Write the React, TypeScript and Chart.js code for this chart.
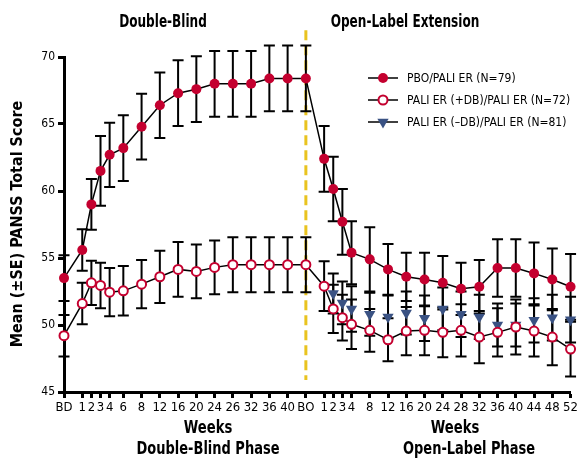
import React, { useEffect, useRef } from 'react';
import { Chart, registerables } from 'chart.js';

Chart.register(...registerables);

const NARROW = '"Liberation Sans Narrow", "DejaVu Sans Condensed", "Roboto", sans-serif';

// x axis: tick labels and their positions on the (non-uniform) time axis
const xLabels = ['BD', '1', '2', '3', '4', '6', '8', '12', '16', '20', '24', '26', '32', '36', '40', 'BO',
  '1', '2', '3', '4', '8', '12', '16', '20', '24', '28', '32', '36', '40', '44', '48', '52'];
const xPos = [0, 2, 3, 4, 5, 6.5, 8.5, 10.5, 12.5, 14.5, 16.5, 18.5, 20.5, 22.5, 24.5, 26.5,
  28.5, 29.5, 30.5, 31.5, 33.5, 35.5, 37.5, 39.5, 41.5, 43.5, 45.5, 47.5, 49.5, 51.5, 53.5, 55.5];
const yMin = 45;
const yMax = 70;
const yStep = 5;
const boIndex = 15;
const dividerTop = 72;
const dividerBottom = 45.9;

const seriesLabels = ['PBO/PALI ER (N=79)', 'PALI ER (+DB)/PALI ER (N=72)', 'PALI ER (\u2013DB)/PALI ER (N=81)'];

// PBO/PALI ER
const pboMean = [53.5, 55.6, 59.0, 61.5, 62.7, 63.2, 64.8, 66.4, 67.3, 67.6, 68.0, 68.0, 68.0, 68.4, 68.4, 68.4,
  62.4, 60.15, 57.7, 55.4, 54.9, 54.15, 53.6, 53.4, 53.15, 52.7, 52.85, 54.25, 54.25, 53.85, 53.4, 52.85];
const pboSE = [1.7, 1.55, 1.9, 2.6, 2.4, 2.45, 2.45, 2.45, 2.45, 2.45, 2.45, 2.45, 2.45, 2.45, 2.45, 2.45,
  2.45, 2.4, 2.45, 2.35, 2.4, 1.9, 1.8, 2.0, 2.0, 1.95, 2.0, 2.15, 2.15, 2.3, 2.3, 2.45];

// PALI ER (+DB)/PALI ER
const plusMean = [49.2, 51.6, 53.15, 52.95, 52.45, 52.55, 53.05, 53.6, 54.15, 54.0, 54.3, 54.5, 54.5, 54.5, 54.5, 54.5,
  52.9, 51.2, 50.55, 50.05, 49.6, 48.9, 49.55, 49.6, 49.45, 49.6, 49.1, 49.45, 49.85, 49.55, 49.1, 48.2];
const plusSE = [1.55, 1.55, 1.65, 1.7, 1.8, 1.85, 1.8, 1.95, 2.05, 2.0, 2.0, 2.05, 2.05, 2.05, 2.05, 2.05,
  1.85, 1.8, 1.7, 1.85, 1.6, 1.6, 1.8, 1.85, 1.85, 1.95, 1.95, 1.8, 2.05, 1.9, 2.1, 2.05];

// PALI ER (-DB)/PALI ER
const minusMean = [null, null, null, null, null, null, null, null, null, null, null, null, null, null, null, null,
  null, 52.35, 51.65, 51.2, 50.8, 50.6, 50.9, 50.5, 51.2, 50.8, 50.6, 50.0, 50.0, 50.35, 50.55, 50.4];
const minusSE = [null, null, null, null, null, null, null, null, null, null, null, null, null, null, null, null,
  null, 1.5, 1.6, 1.7, 1.6, 1.6, 1.6, 1.7, 1.6, 1.7, 1.65, 1.6, 1.6, 1.65, 1.7, 1.7];

const RED = '#C4002F';
const NAVY = '#3A5283';
const GOLD = '#E9C31F';

const toPoints = (vals: (number | null)[]) => vals.map((v, i) => ({ x: xPos[i], y: v }));
const errs = [pboSE, plusSE, minusSE];

const drawMarker = (ctx: CanvasRenderingContext2D, kind: number, x: number, y: number) => {
  ctx.save();
  if (kind === 0) {
    ctx.fillStyle = RED;
    ctx.beginPath(); ctx.arc(x, y, 5, 0, Math.PI * 2); ctx.fill();
  } else if (kind === 1) {
    ctx.fillStyle = '#fff'; ctx.strokeStyle = RED; ctx.lineWidth = 2;
    ctx.beginPath(); ctx.arc(x, y, 4.5, 0, Math.PI * 2); ctx.fill(); ctx.stroke();
  } else {
    const r = 6.5;
    ctx.fillStyle = NAVY;
    ctx.beginPath();
    ctx.moveTo(x, y + r);
    ctx.lineTo(x - r * Math.sin(Math.PI / 3), y - r / 2);
    ctx.lineTo(x + r * Math.sin(Math.PI / 3), y - r / 2);
    ctx.closePath(); ctx.fill();
  }
  ctx.restore();
};

const errorBarsPlugin = {
  id: 'errorBars',
  beforeDatasetsDraw(chart: any) {
    const { ctx, scales } = chart;
    const x = scales.x, y = scales.y;
    ctx.save();
    // phase divider
    const bx = x.getPixelForValue(xPos[boIndex]);
    ctx.strokeStyle = GOLD; ctx.lineWidth = 3; ctx.setLineDash([10, 5]);
    ctx.beginPath();
    ctx.moveTo(bx, y.getPixelForValue(dividerTop));
    ctx.lineTo(bx, y.getPixelForValue(dividerBottom));
    ctx.stroke();
    ctx.setLineDash([]);
    ctx.strokeStyle = '#000'; ctx.lineWidth = 2;
    chart.data.datasets.forEach((ds: any, di: number) => {
      const se = errs[di];
      ds.data.forEach((p: any, i: number) => {
        if (p.y == null || se[i] == null) return;
        const px = x.getPixelForValue(p.x);
        const t = y.getPixelForValue(p.y + se[i]);
        const b = y.getPixelForValue(p.y - se[i]);
        ctx.beginPath();
        ctx.moveTo(px, t); ctx.lineTo(px, b);
        ctx.moveTo(px - 5.5, t); ctx.lineTo(px + 5.5, t);
        ctx.moveTo(px - 5.5, b); ctx.lineTo(px + 5.5, b);
        ctx.stroke();
      });
    });
    ctx.restore();
  },
};

const condensedText = (ctx: CanvasRenderingContext2D, text: string, x: number, y: number, sx: number) => {
  ctx.save();
  ctx.translate(x, y);
  ctx.scale(sx, 1);
  ctx.fillText(text, 0, 0);
  ctx.restore();
};

const textPlugin = {
  id: 'texts',
  afterDraw(chart: any) {
    const { ctx } = chart;
    ctx.save();
    ctx.fillStyle = '#000';
    ctx.textAlign = 'center';
    ctx.textBaseline = 'middle';
    ctx.font = `bold 17px ${NARROW}`;
    condensedText(ctx, 'Double-Blind', 163, 23, 0.79);
    condensedText(ctx, 'Open-Label Extension', 405, 23, 0.79);
    condensedText(ctx, 'Weeks', 208, 429, 0.86);
    condensedText(ctx, 'Double-Blind Phase', 208, 450, 0.85);
    condensedText(ctx, 'Weeks', 455, 429, 0.86);
    condensedText(ctx, 'Open-Label Phase', 469, 450, 0.85);
    // y title
    ctx.save();
    ctx.translate(18, 224);
    ctx.rotate(-Math.PI / 2);
    ctx.font = `bold 16px ${NARROW}`;
    ctx.fillText('Mean (\u00B1SE) PANSS Total Score', 0, 0);
    ctx.restore();
    // legend
    ctx.textAlign = 'left';
    ctx.font = `12px ${NARROW}`;
    seriesLabels.forEach((lab, i) => {
      const ly = 78 + i * 22;
      ctx.strokeStyle = '#000'; ctx.lineWidth = 1.5;
      ctx.beginPath(); ctx.moveTo(368, ly); ctx.lineTo(398, ly); ctx.stroke();
      drawMarker(ctx, i, 383, ly);
      ctx.fillStyle = '#000';
      ctx.fillText(lab, 407, ly + 1);
    });
    ctx.restore();
  },
};

export default function App() {
  const ref = useRef<HTMLCanvasElement | null>(null);
  useEffect(() => {
    if (!ref.current) return;
    const chart = new Chart(ref.current, {
      type: 'line',
      data: {
        datasets: [
          {
            label: seriesLabels[0], data: toPoints(pboMean) as any,
            borderColor: '#000', borderWidth: 1.5, pointStyle: 'circle', pointRadius: 5,
            pointBackgroundColor: RED, pointBorderColor: RED, pointBorderWidth: 0, clip: false as any,
          },
          {
            label: seriesLabels[1], data: toPoints(plusMean) as any,
            borderColor: '#000', borderWidth: 1.5, pointStyle: 'circle', pointRadius: 4.5,
            pointBackgroundColor: '#fff', pointBorderColor: RED, pointBorderWidth: 2, clip: false as any,
          },
          {
            label: seriesLabels[2], data: toPoints(minusMean) as any, showLine: false,
            borderColor: NAVY, pointStyle: 'triangle', pointRotation: 180, pointRadius: 6.5,
            pointBackgroundColor: NAVY, pointBorderColor: NAVY, pointBorderWidth: 0, clip: false as any,
          },
        ],
      },
      options: {
        animation: false,
        responsive: false,
        devicePixelRatio: 1,
        layout: { autoPadding: false, padding: { left: 0, right: 7, top: 57, bottom: 0 } },
        plugins: { legend: { display: false }, tooltip: { enabled: false }, title: { display: false } },
        scales: {
          x: {
            type: 'linear', min: xPos[0], max: xPos[xPos.length - 1],
            afterBuildTicks: (scale: any) => { scale.ticks = xPos.map((v) => ({ value: v })); },
            afterFit: (scale: any) => { scale.height = 66; },
            ticks: {
              autoSkip: false, maxRotation: 0, minRotation: 0, padding: 2, color: '#000',
              font: { family: NARROW, size: 13 },
              callback: (_v: any, i: number) => xLabels[i],
            },
            grid: { drawOnChartArea: false, drawTicks: true, tickLength: 6, tickWidth: 3, tickColor: '#000' },
            border: { display: true, width: 3, color: '#000' },
          },
          y: {
            type: 'linear', min: yMin, max: yMax,
            afterFit: (scale: any) => { scale.width = 64; },
            ticks: { stepSize: yStep, padding: 3, color: '#000', font: { family: NARROW, size: 12 } },
            grid: { drawOnChartArea: false, drawTicks: true, tickLength: 6, tickWidth: 3, tickColor: '#000' },
            border: { display: true, width: 3, color: '#000' },
          },
        },
      },
      plugins: [errorBarsPlugin, textPlugin],
    });
    return () => chart.destroy();
  }, []);
  return (
    <div style={{ position: 'fixed', left: 0, top: 0, width: 580, height: 458, background: '#fff' }}>
      <canvas ref={ref} width={580} height={458} style={{ width: 580, height: 458, display: 'block' }} />
    </div>
  );
}
